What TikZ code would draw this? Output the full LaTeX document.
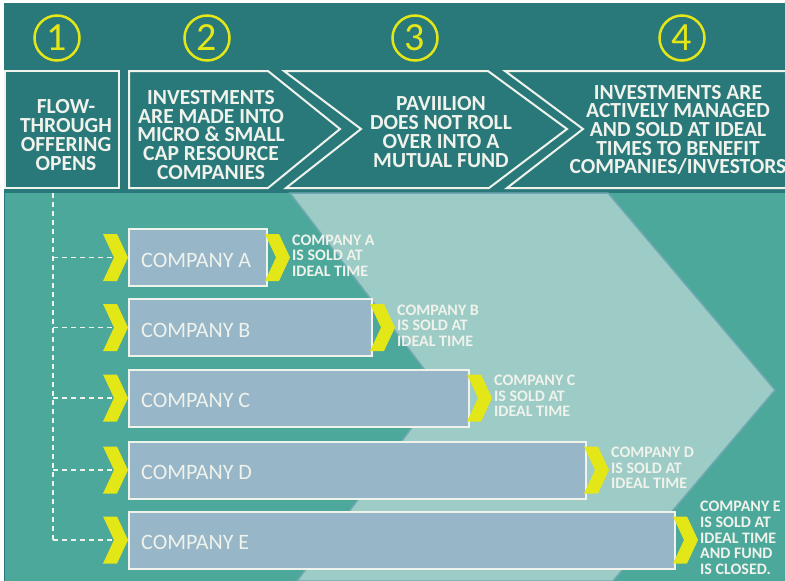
\documentclass[tikz,border=0pt]{standalone}
\usepackage{fontspec}
\setmainfont{Carlito}
\usetikzlibrary{positioning}

\definecolor{bandteal}{HTML}{2A797A}
\definecolor{midteal}{HTML}{4CA89A}
\definecolor{paleteal}{HTML}{9DCBC5}
\definecolor{edgeteal}{HTML}{6FA8B2}
\definecolor{boxblue}{HTML}{97B7C9}
\definecolor{chevyellow}{HTML}{E3E617}
\definecolor{offwhite}{HTML}{F0F2EC}

\tikzset{
  stepframe/.style={draw=offwhite, line width=2pt, line join=miter},
  steptext/.style={text=offwhite, align=center, inner sep=0pt,
    font=\bfseries\fontsize{21.5}{18.7}\selectfont},
  numc/.style={circle, draw=chevyellow, line width=2.5pt, minimum size=45pt, inner sep=0pt,
    text=chevyellow, font=\fontsize{40}{40}\selectfont},
  cbox/.style={draw=offwhite, line width=2pt, fill=boxblue, minimum height=57pt,
    inner sep=0pt, outer sep=0pt},
  ctext/.style={text=offwhite, inner sep=0pt, font=\fontsize{22}{22}\selectfont},
  soldtext/.style={text=offwhite, align=left, inner sep=0pt,
    font=\bfseries\fontsize{16}{15.6}\selectfont},
  dashline/.style={draw=offwhite, line width=1.2pt, dash pattern=on 5pt off 4pt},
  chev/.pic={
    \fill[chevyellow] (-12.5,-23.5) -- (1.5,-23.5) -- (12.5,0) -- (1.5,23.5)
      -- (-12.5,23.5) -- (-1.5,0) -- cycle;
    \coordinate (-notch) at (-1.5,0);
  }
}

\begin{document}
\begin{tikzpicture}[x=1pt, y=-1pt]
\useasboundingbox (0,0) rectangle (785,581);
\fill[white] (0,0) rectangle (785,581);

% top band and lower field
\fill[bandteal] (4,3) rectangle (785,581);
\fill[midteal] (5,193) rectangle (785,581);
\filldraw[fill=paleteal, draw=edgeteal, line width=1.5pt]
  (290,193) -- (608,193) -- (775,390) -- (613,581) -- (297,581) -- (440,390) -- cycle;

% the four steps
\draw[stepframe] (5,71) rectangle (119,188);
\draw[stepframe] (129,71) -- (268,71) -- (340,129) -- (268,188) -- (129,188) -- cycle;
\draw[stepframe] (284,71) -- (488,71) -- (567,129) -- (489,188) -- (286,188) -- (361,129) -- cycle;
\draw[stepframe] (786,71) -- (505,71) -- (583,129) -- (507,188) -- (786,188);

\node[numc] (n1) at (57,38) {1};
\node[numc] (n2) at (207,38) {2};
\node[numc] (n3) at (415,38) {3};
\node[numc] (n4) at (682,38) {4};

\node[steptext, font=\bfseries\fontsize{21.5}{19}\selectfont] (t1) at (66,135) {FLOW-\\THROUGH\\OFFERING\\OPENS};
\node[steptext] (t2) at (211,135) {INVESTMENTS\\ARE MADE INTO\\MICRO \& SMALL\\CAP RESOURCE\\COMPANIES};
\node[steptext] (t3) at (441,132) {PAVIILION\\DOES NOT ROLL\\OVER INTO A\\MUTUAL FUND};
\node[steptext] (t4) at (678,130) {INVESTMENTS ARE\\ACTIVELY MANAGED\\AND SOLD AT IDEAL\\TIMES TO BENEFIT\\COMPANIES/INVESTORS};

% companies
\coordinate (trunk) at (53,193);
\foreach \n/\y/\r/\txt in {A/257.5/268/{COMPANY A\\IS SOLD AT\\IDEAL TIME},
    B/327.5/373/{COMPANY B\\IS SOLD AT\\IDEAL TIME},
    C/398/470/{COMPANY C\\IS SOLD AT\\IDEAL TIME},
    D/470/587/{COMPANY D\\IS SOLD AT\\IDEAL TIME},
    E/540/676/{COMPANY E\\IS SOLD AT\\IDEAL TIME\\AND FUND\\IS CLOSED.}} {
  \node[cbox, anchor=west, minimum width={\r-130}] (box\n) at (129,\y) {};
  \node[ctext, anchor=west] (name\n) at ([xshift=12,yshift=-2.5]box\n.west) {COMPANY \n};
  \pic (in\n) at (115.5,\y) {chev};
  \pic (out\n) at ([xshift=10.5]box\n.east) {chev};
  \node[soldtext, anchor=west] (sold\n) at ([xshift=25,yshift=2]box\n.east) {\txt};
  \draw[dashline] (in\n-notch -| trunk) -- (in\n-notch);
}
\draw[dashline] (trunk) -- (inE-notch -| trunk);
\end{tikzpicture}
\end{document}
